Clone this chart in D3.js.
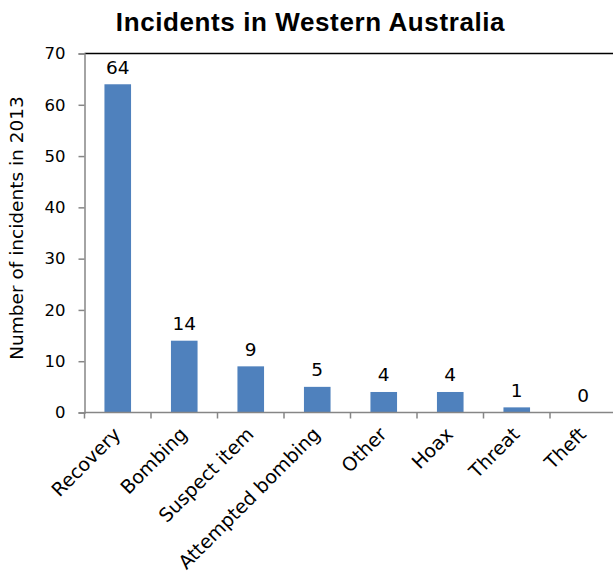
<!DOCTYPE html>
<html>
<head>
<meta charset="utf-8">
<script src="https://cdn.jsdelivr.net/npm/d3@7"></script>
<style>
  html, body { margin: 0; padding: 0; background: #ffffff; }
  svg { display: block; }
</style>
</head>
<body>
<script>
// Incident counts by category, Western Australia, 2013
const categories = ["Recovery", "Bombing", "Suspect item", "Attempted bombing", "Other", "Hoax", "Threat", "Theft"];
const incidents = [64, 14, 9, 5, 4, 4, 1, 0];
const yTicks = [0, 10, 20, 30, 40, 50, 60, 70];
const chartTitle = "Incidents in Western Australia";
const yTitle = "Number of incidents in 2013";

const width = 613, height = 574;
const plot = { left: 84.5, right: 616.5, top: 53.5, bottom: 412.5 };

const svg = d3.select("body").append("svg")
  .attr("width", width)
  .attr("height", height);

const x = d3.scaleBand()
  .domain(categories)
  .range([plot.left, plot.right])
  .paddingInner(0.6)
  .paddingOuter(0.3);

const y = d3.scaleLinear()
  .domain([0, 70])
  .range([plot.bottom, plot.top]);

const axisColor = "#868686";
const labelFont = "'DejaVu Sans', Verdana, sans-serif";

// Title
svg.append("text")
  .attr("x", 310.5)
  .attr("y", 31)
  .attr("text-anchor", "middle")
  .attr("font-family", "'Liberation Sans', Arial, sans-serif")
  .attr("font-weight", "bold")
  .attr("font-size", 26)
  .attr("letter-spacing", 0.6)
  .attr("fill", "#000")
  .text(chartTitle);

// Top border of the plot area
svg.append("line")
  .attr("x1", plot.left).attr("x2", width)
  .attr("y1", plot.top).attr("y2", plot.top)
  .attr("stroke", "#000")
  .attr("stroke-width", 1.5);

const rows = categories.map((c, i) => ({ c, v: incidents[i] }));

// Bars
svg.append("g")
  .selectAll("rect")
  .data(rows)
  .join("rect")
  .attr("x", d => x(d.c))
  .attr("width", x.bandwidth())
  .attr("y", d => y(d.v))
  .attr("height", d => y(0) - y(d.v))
  .attr("fill", "#4F81BD");

// Value labels
svg.append("g")
  .selectAll("text")
  .data(rows)
  .join("text")
  .attr("x", d => x(d.c) + x.bandwidth() / 2)
  .attr("y", d => y(d.v) - 10.5)
  .attr("text-anchor", "middle")
  .attr("font-family", labelFont)
  .attr("font-size", 18.5)
  .attr("fill", "#000")
  .text(d => d.v);

// Y axis
const yAxis = svg.append("g")
  .attr("transform", `translate(${plot.left},0)`)
  .call(d3.axisLeft(y).tickValues(yTicks).tickSize(6).tickPadding(13));
yAxis.select(".domain").attr("stroke", axisColor).attr("stroke-width", 1.5);
yAxis.selectAll(".tick line").attr("stroke", axisColor).attr("stroke-width", 1.5);
yAxis.selectAll(".tick text")
  .attr("font-family", labelFont)
  .attr("font-size", 16.5)
  .attr("fill", "#000");

// X axis: baseline with ticks at band boundaries
const step = x.step();
const boundaries = d3.range(categories.length + 1).map(i => plot.left + i * step);
const xAxis = svg.append("g");
xAxis.append("line")
  .attr("x1", plot.left).attr("x2", width)
  .attr("y1", plot.bottom).attr("y2", plot.bottom)
  .attr("stroke", axisColor)
  .attr("stroke-width", 1.5);
xAxis.selectAll("line.tick")
  .data(boundaries)
  .join("line")
  .attr("class", "tick")
  .attr("x1", d => d).attr("x2", d => d)
  .attr("y1", plot.bottom).attr("y2", plot.bottom + 6)
  .attr("stroke", axisColor)
  .attr("stroke-width", 1.5);

// Rotated category labels
xAxis.selectAll("text")
  .data(categories)
  .join("text")
  .attr("transform", d => `translate(${x(d) + x.bandwidth() / 2 + 4},${plot.bottom + 23}) rotate(-45)`)
  .attr("text-anchor", "end")
  .attr("font-family", labelFont)
  .attr("font-size", 19)
  .attr("fill", "#000")
  .text(d => d);

// Y axis title
svg.append("text")
  .attr("transform", `translate(23,228) rotate(-90)`)
  .attr("text-anchor", "middle")
  .attr("font-family", labelFont)
  .attr("font-size", 18.5)
  .attr("fill", "#000")
  .text(yTitle);
</script>
</body>
</html>
